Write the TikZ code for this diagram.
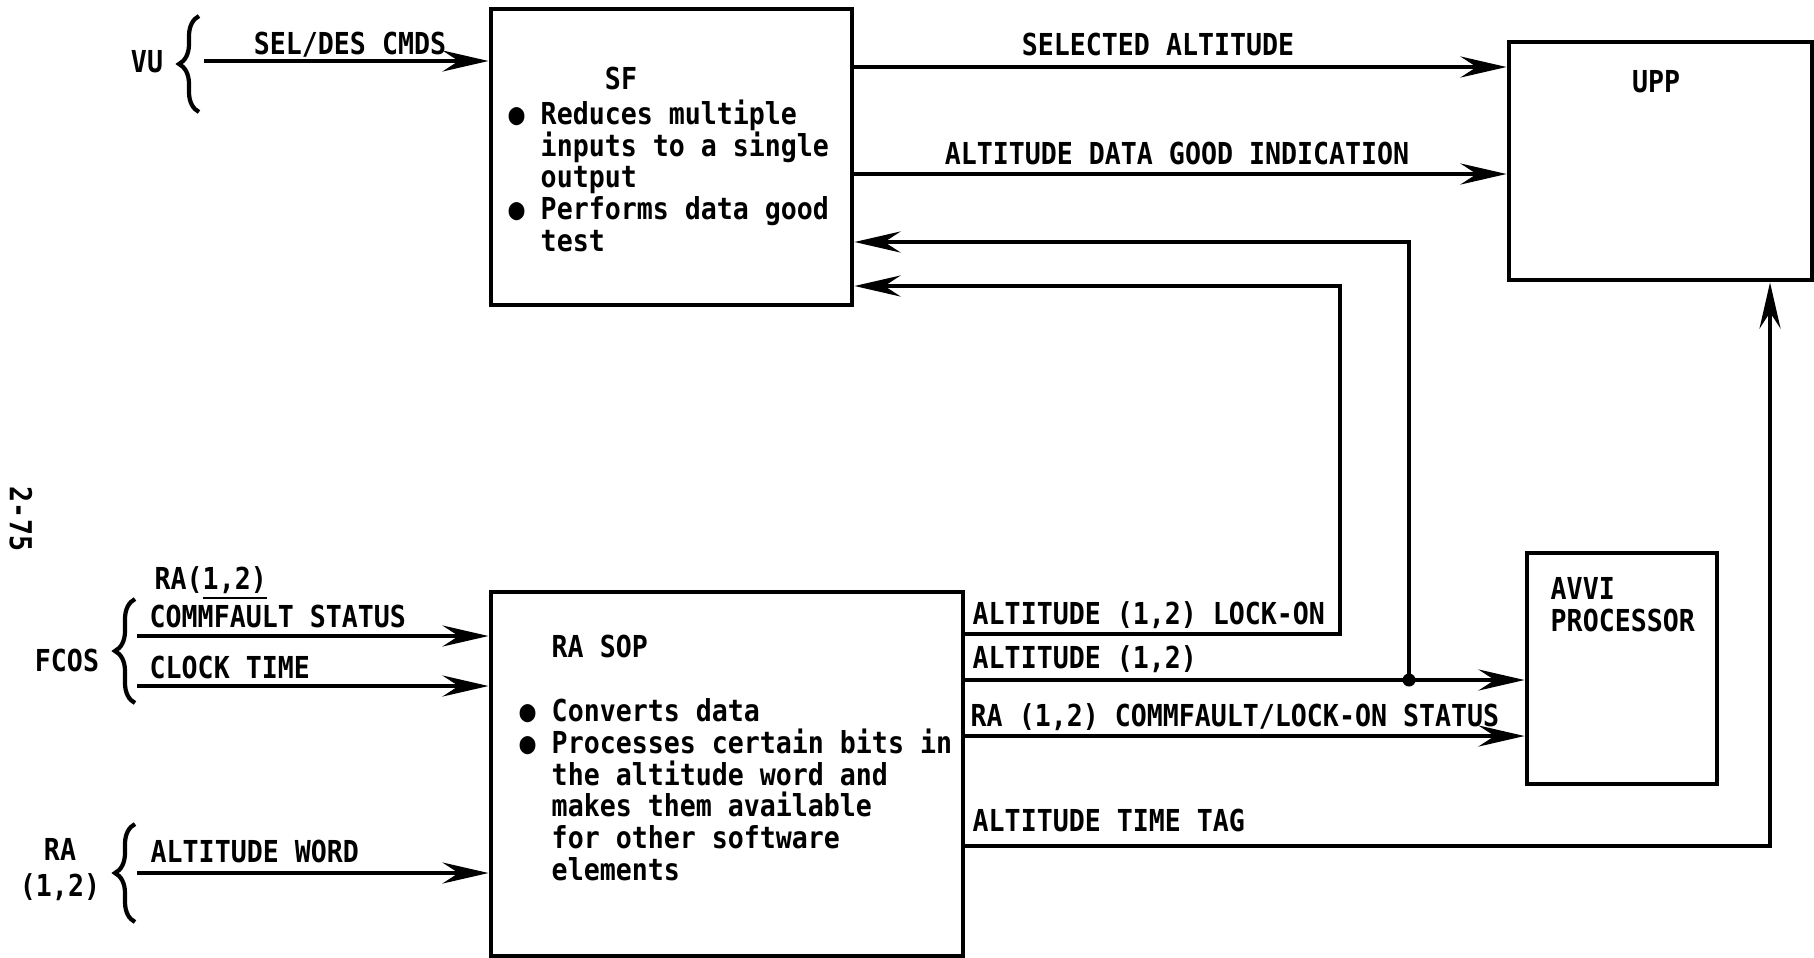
\documentclass[tikz,border=0pt]{standalone}
\usepackage{fontspec}
\newfontfamily\shema{DejaVu Sans Mono}[FakeStretch=0.88]
\usetikzlibrary{arrows.meta, decorations.pathreplacing}
\tikzset{
  blok/.style    = {rectangle, draw, line width=1.4pt, inner sep=0pt},
  oznaka/.style  = {inner sep=0pt, font=\shema\bfseries\fontsize{8.6}{9}\selectfont},
  tekst/.style   = {oznaka, align=left},
  tok/.style     = {-{Stealth[length=4.6mm, width=2.1mm, inset=1.6mm]}, line width=1.3pt},
  zagrada/.style = {decorate, decoration={brace, amplitude=2mm}, line width=1.2pt},
}
\newcommand{\stavka}{● }
\newcommand{\uvl}{\phantom{● }}

\begin{document}
\begin{tikzpicture}[x=1cm, y=1cm]
  \useasboundingbox (0,0) rectangle (18.14,9.57);
  % --- blokovi ---
  \node[blok, minimum width=3.61cm, minimum height=2.96cm] at (6.715, 8.00) (sf) {};
  \node[blok, minimum width=3.03cm, minimum height=2.38cm] at (16.605, 7.96) (upp) {};
  \node[blok, minimum width=4.72cm, minimum height=3.64cm] at (7.27, 1.83) (rasop) {};
  \node[blok, minimum width=1.90cm, minimum height=2.31cm] at (16.22, 2.885) (avvi) {};

  % tekst u blokovima (base = zadnji redak)
  \node[oznaka, anchor=base] at (6.21, 8.68) (sf-naslov) {SF};
  \node[tekst, anchor=base west] at (5.08, 7.06) (sf-opis)
        {\stavka Reduces multiple\\ \uvl inputs to a single\\ \uvl output\\
         \stavka Performs data good\\ \uvl test};
  \node[oznaka, anchor=base] at (16.56, 8.65) (upp-naslov) {UPP};
  \node[tekst, anchor=base west] at (15.50, 3.26) (avvi-naslov) {AVVI\\PROCESSOR};
  \node[oznaka, anchor=base west] at (5.51, 3.00) (rasop-naslov) {RA SOP};
  \node[tekst, anchor=base west] at (5.19, 0.77) (rasop-opis)
        {\stavka Converts data\\ \stavka Processes certain bits in\\ \uvl the altitude word and\\
         \uvl makes them available\\ \uvl for other software\\ \uvl elements};

  % --- ulazi, lijevo ---
  \node[oznaka, rotate=-90] at (0.21, 4.38) (strana) {2-75};
  \node[oznaka, anchor=base] at (1.47, 8.85) (vu) {VU};
  \draw[zagrada] (1.99, 8.45) -- (1.99, 9.41);
  \coordinate (vu-ul) at (2.04, 8.96);
  \draw[tok] (vu-ul) -- (vu-ul -| sf.west);
  \node[oznaka, anchor=base] at (3.50, 9.03) (seldes) {SEL/DES CMDS};

  \node[oznaka, anchor=base] at (0.67, 2.86) (fcos) {FCOS};
  \draw[zagrada] (1.35, 2.54) -- (1.35, 3.58);
  \coordinate (fcos-a) at (1.37, 3.21);
  \coordinate (fcos-b) at (1.37, 2.71);
  \draw[tok] (fcos-a) -- (fcos-a -| rasop.west);
  \draw[tok] (fcos-b) -- (fcos-b -| rasop.west);
  \node[oznaka, anchor=base west] at (1.54, 3.68) (ra-stat) {RA(\underline{1,2)}};
  \node[oznaka, anchor=base west] at (1.49, 3.30) (commfault) {COMMFAULT STATUS};
  \node[oznaka, anchor=base west] at (1.49, 2.79) (sat) {CLOCK TIME};

  \node[oznaka, align=center, anchor=base] at (0.60, 0.61) (ra) {RA\\[1pt](1,2)};
  \draw[zagrada] (1.35, 0.35) -- (1.35, 1.33);
  \coordinate (ra-ul) at (1.37, 0.84);
  \draw[tok] (ra-ul) -- (ra-ul -| rasop.west);
  \node[oznaka, anchor=base west] at (1.50, 0.95) (rijec) {ALTITUDE WORD};

  % --- SF prema UPP ---
  \draw[tok] ([yshift=9mm]sf.east) -- ([yshift=9mm]sf.east -| upp.west);
  \node[oznaka, anchor=base] at (11.58, 9.02) (odabrana) {SELECTED ALTITUDE};
  \draw[tok] ([yshift=-1.7mm]sf.east) -- ([yshift=-1.7mm]sf.east -| upp.west);
  \node[oznaka, anchor=base] at (11.77, 7.93) (ispravno) {ALTITUDE DATA GOOD INDICATION};

  % --- izlazi RA SOP ---
  \coordinate (spoj) at (14.09, 2.77);
  \coordinate (lock) at (13.40, 3.23);
  \coordinate (stat) at (13.40, 2.21);
  \coordinate (tag)  at (17.70, 1.11);
  \draw[tok] (lock -| rasop.east) -- (lock) |- ([yshift=-12.9mm]sf.east);
  \draw[tok] (spoj -| rasop.east) -- (spoj -| avvi.west);
  \fill (spoj) circle (0.065);
  \draw[tok] (spoj) |- ([yshift=-8.5mm]sf.east);
  \draw[tok] (stat -| rasop.east) -- (stat -| avvi.west);
  \draw[tok] (tag -| rasop.east) -- (tag) -- (tag |- upp.south);

  \node[oznaka, anchor=base west] at (9.72, 3.33) (lbl-lock) {ALTITUDE (1,2) LOCK-ON};
  \node[oznaka, anchor=base west] at (9.72, 2.89) (lbl-alt) {ALTITUDE (1,2)};
  \node[oznaka, anchor=base west] at (9.70, 2.31) (lbl-stat) {RA (1,2) COMMFAULT/LOCK-ON STATUS};
  \node[oznaka, anchor=base west] at (9.72, 1.26) (lbl-tag) {ALTITUDE TIME TAG};
\end{tikzpicture}
\end{document}
